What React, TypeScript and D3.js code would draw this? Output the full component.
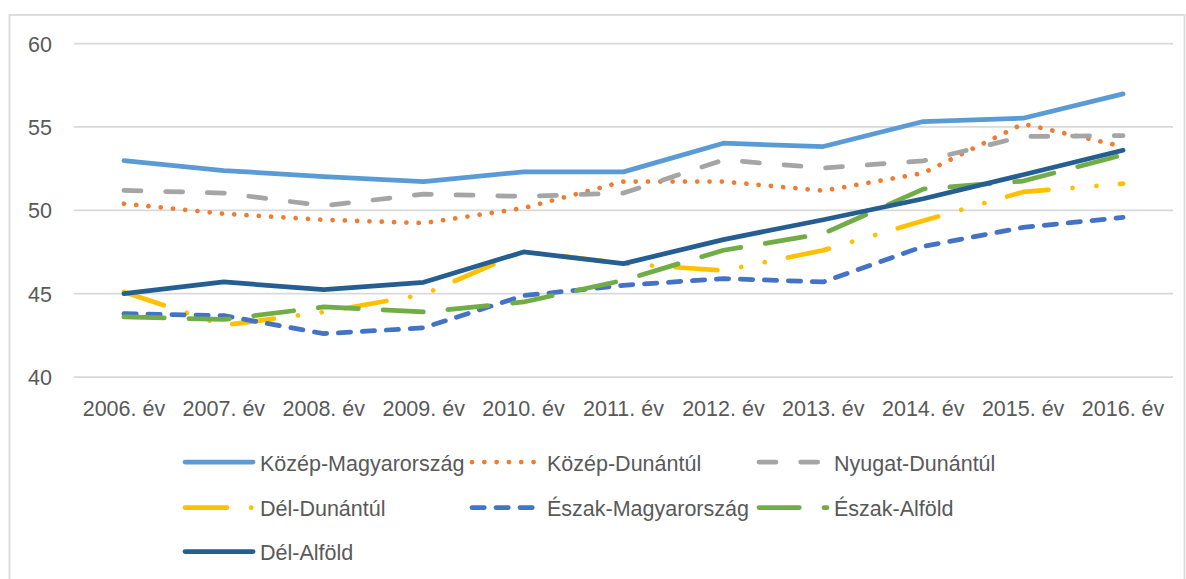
import React from "react";
import * as d3 from "d3";

const years = ["2006. év", "2007. év", "2008. év", "2009. év", "2010. év", "2011. év", "2012. év", "2013. év", "2014. év", "2015. év", "2016. év"];
const yTicks = [40, 45, 50, 55, 60];

const kozepMagyarorszag = [52.98, 52.38, 52.02, 51.72, 52.3, 52.3, 54.02, 53.82, 55.32, 55.52, 56.98];
const kozepDunantul = [50.39, 49.79, 49.43, 49.23, 50.13, 51.72, 51.72, 51.17, 52.23, 55.18, 53.82];
const nyugatDunantul = [51.19, 51.03, 50.27, 50.97, 50.83, 51.03, 53.02, 52.53, 52.96, 54.42, 54.48];
const delDunantul = [45.1, 43.1, 43.9, 44.95, 47.53, 46.8, 46.38, 47.6, 49.37, 51.1, 51.6];
const eszakMagyarorszag = [43.8, 43.68, 42.6, 42.95, 44.88, 45.5, 45.9, 45.7, 47.83, 48.97, 49.57];
const eszakAlfold = [43.6, 43.45, 44.2, 43.9, 44.5, 45.8, 47.6, 48.6, 51.27, 51.75, 53.32];
const delAlfold = [45.0, 45.7, 45.24, 45.68, 47.5, 46.8, 48.24, 49.43, 50.69, 52.13, 53.6];

const seriesNames = ["Közép-Magyarország", "Közép-Dunántúl", "Nyugat-Dunántúl", "Dél-Dunántúl", "Észak-Magyarország", "Észak-Alföld", "Dél-Alföld"];
const seriesValues = [kozepMagyarorszag, kozepDunantul, nyugatDunantul, delDunantul, eszakMagyarorszag, eszakAlfold, delAlfold];
const seriesColors = ["#5B9BD5", "#ED7D31", "#A5A5A5", "#FFC000", "#4472C4", "#70AD47", "#255E91"];
const seriesDash = ["none", "0.01 12.3", "17 24.7", "42 24.2 0.01 24 0.01 23.6", "12.3 11.7", "40.3 24.7", "none"];

const W = 1186;
const H = 579;
const FONT = "'Liberation Sans', Arial, sans-serif";
const TEXT = "#595959";
const GRID = "#D9D9D9";
const SW = 4.75;

export default function App() {
  const x = d3.scalePoint<string>().domain(years).range([74, 1173]).padding(0.5);
  const y = d3.scaleLinear().domain([40, 60]).range([377, 43.5]);
  const line = d3
    .line<number>()
    .x((_, i) => x(years[i]) as number)
    .y((d) => y(d));

  const legendCols = [183, 470, 757];
  const legendRows = [462, 507.5, 551.5];

  return (
    <svg
      width={W}
      height={H}
      style={{ position: "absolute", left: 0, top: 0, background: "#fff" }}
      fontFamily={FONT}
    >
      <rect x={0} y={0} width={W} height={H} fill="#fff" />
      <rect x={9.5} y={15} width={1175} height={H + 20} fill="none" stroke={GRID} strokeWidth={1.75} />
      {yTicks.map((t) => (
        <g key={t}>
          <line x1={74} x2={1173} y1={y(t)} y2={y(t)} stroke={GRID} strokeWidth={1.75} />
          <text x={52} y={y(t) + 8} textAnchor="end" fontSize={21.5} fill={TEXT}>
            {t}
          </text>
        </g>
      ))}
      {years.map((yr) => (
        <text key={yr} x={x(yr)} y={416} textAnchor="middle" fontSize={21.5} fill={TEXT}>
          {yr}
        </text>
      ))}
      {seriesValues.map((vals, i) => (
        <path
          key={seriesNames[i]}
          d={line(vals) || ""}
          fill="none"
          stroke={seriesColors[i]}
          strokeWidth={SW}
          strokeLinecap="round"
          strokeLinejoin="round"
          strokeDasharray={seriesDash[i] === "none" ? undefined : seriesDash[i]}
        />
      ))}
      {seriesNames.map((name, i) => {
        const lx = legendCols[i % 3];
        const ly = legendRows[Math.floor(i / 3)];
        return (
          <g key={name}>
            <line
              x1={lx + 2}
              x2={lx + 70}
              y1={ly}
              y2={ly}
              stroke={seriesColors[i]}
              strokeWidth={SW}
              strokeLinecap="round"
              strokeDasharray={seriesDash[i] === "none" ? undefined : seriesDash[i]}
            />
            <text x={lx + 77} y={ly + 8.5} fontSize={21.5} fill={TEXT}>
              {name}
            </text>
          </g>
        );
      })}
    </svg>
  );
}
